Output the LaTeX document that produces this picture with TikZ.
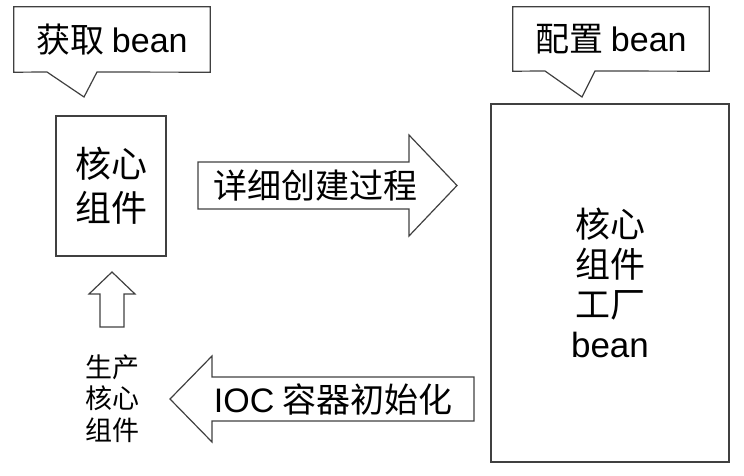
\documentclass[tikz,border=0pt]{standalone}
\usepackage{fontspec}
\usepackage{tikz}
\setmainfont{Noto Sans CJK SC}
\newfontfamily\lat{Liberation Sans}

\tikzset{
    outline/.style={draw=black!75, line width=1.2pt, line join=miter},
    bigtext/.style={font=\fontsize{34}{40}\selectfont},
    smalltext/.style={font=\fontsize{27}{31.5}\selectfont}
}

\begin{document}
\begin{tikzpicture}[x=1pt, y=-1pt]

    \useasboundingbox (0, 0) rectangle (744, 475);

    % Callout over the small box
    \node[bigtext, minimum width=196pt, minimum height=65pt, inner sep=0pt] (get) at (112, 39.5) {获取 {\lat bean}};
    \coordinate (getLeft) at (47, 72);
    \coordinate (getRight) at (97, 72);
    \coordinate (getTip) at (84, 97);
    \draw[outline] (get.north west) -- (get.north east) -- (get.south east)
        -- (getRight) -- (getTip) -- (getLeft) -- (get.south west) -- cycle;

    % Callout over the big box
    \node[bigtext, minimum width=196pt, minimum height=64pt, inner sep=0pt] (config) at (611, 39) {配置 {\lat bean}};
    \coordinate (configLeft) at (545, 71);
    \coordinate (configRight) at (595, 71);
    \coordinate (configTip) at (582, 97);
    \draw[outline] (config.north west) -- (config.north east) -- (config.south east)
        -- (configRight) -- (configTip) -- (configLeft) -- (config.south west) -- cycle;

    % Small box
    \node[outline, font=\fontsize{36}{44}\selectfont, align=center,
          minimum width=110pt, minimum height=140pt, inner sep=0pt] (core) at (111, 186) {核心\\组件};

    % Big box
    \node[outline, font=\fontsize{35}{40}\selectfont, align=center,
          minimum width=238pt, minimum height=358pt, inner sep=0pt] (factory) at (610, 283) {核心\\组件\\工厂\\{\lat bean}};

    % Right block arrow
    \draw[outline] (198, 162) -- (409, 162) -- (409, 135) -- (457, 185.5)
        -- (409, 236) -- (409, 209) -- (198, 209) -- cycle;
    \node[bigtext, inner sep=0pt] (build) at (315, 185.5) {详细创建过程};

    % Left block arrow
    \draw[outline] (474, 377) -- (212, 377) -- (212, 356) -- (170, 399)
        -- (212, 442) -- (212, 421) -- (474, 421) -- cycle;
    \node[bigtext, inner sep=0pt] (init) at (333, 399) {{\lat IOC} 容器初始化};

    % Up arrow
    \draw[outline] (100, 327) -- (100, 294) -- (89, 294) -- (112, 272)
        -- (135, 294) -- (124, 294) -- (124, 327) -- cycle;

    % Text under the up arrow
    \node[smalltext, align=center, inner sep=0pt] (produce) at (112, 398.5) {生产\\核心\\组件};

\end{tikzpicture}
\end{document}
